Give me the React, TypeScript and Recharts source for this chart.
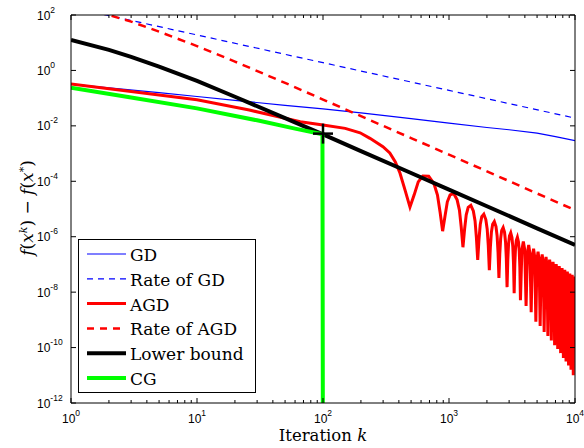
import React from 'react';
import { ComposedChart, Line, Scatter, XAxis, YAxis, Legend } from 'recharts';

// Values, stored as log10 of f(x^k) - f(x^*)
const gdK = [1, 2, 5, 10, 20, 50, 100, 200, 500, 1000, 2000, 3000, 5000, 7000, 10000];
const gdExp = [-0.49, -0.63, -0.8, -0.94, -1.08, -1.26, -1.39, -1.53, -1.74, -1.9, -2.06, -2.14, -2.26, -2.39, -2.53];

const rateGdK = [1, 10, 100, 1000, 10000];
const rateGdExp = [2.28, 1.28, 0.28, -0.72, -1.72];

const agdK = [
  1, 3, 10, 26, 66, 100, 150, 197, 236, 299, 339, 375, 408, 448, 490,
  530, 570, 620, 690, 760, 810, 850, 890,
  930, 970, 1020, 1090, 1160, 1210, 1250, 1290,
  1330, 1370, 1420, 1490, 1560, 1610, 1650, 1690,
  1730, 1770, 1820, 1890, 1960, 2010, 2050, 2090,
  2130, 2170, 2220, 2290, 2360, 2410, 2450, 2490,
  2530, 2570, 2620, 2690, 2760, 2810, 2850, 2890,
  2930, 2970, 3020, 3090, 3160, 3210, 3250, 3290,
  3330, 3370, 3420, 3490, 3560, 3610, 3650, 3690,
  3790, 3890, 3990, 4090, 4190, 4290, 4390, 4490,
  4590, 4690, 4790, 4890, 4990, 5090, 5190, 5290,
  5390, 5490, 5590, 5690, 5790, 5890, 5990, 6090,
  6190, 6290, 6390, 6490, 6590, 6690, 6790, 6890,
  6990, 7090, 7190, 7290, 7390, 7490, 7590, 7690,
  7790, 7890, 7990, 8090, 8190, 8290, 8390, 8490,
  8590, 8690, 8790, 8890, 8990, 9090, 9190, 9290,
  9390, 9490, 9590, 9690, 9790, 9890, 10000,
];
const agdExp = [
  -0.49, -0.76, -1.06, -1.43, -1.85, -1.97, -2.09, -2.25, -2.45, -2.75, -2.98, -3.3, -3.7, -4.32, -4.93,
  -4.48, -4.02, -3.81, -3.82, -4.09, -4.5, -5.12, -5.8,
  -5.25, -4.74, -4.49, -4.44, -4.67, -5.04, -5.65, -6.38,
  -5.73, -5.21, -4.94, -4.87, -5.07, -5.43, -6.03, -6.84,
  -6.09, -5.56, -5.28, -5.19, -5.38, -5.73, -6.32, -7.21,
  -6.37, -5.84, -5.55, -5.45, -5.63, -5.98, -6.56, -7.49,
  -6.61, -6.07, -5.77, -5.67, -5.84, -6.19, -6.77, -7.82,
  -6.81, -6.26, -5.97, -5.86, -6.03, -6.37, -6.95, -8.04,
  -6.98, -6.44, -6.14, -6.02, -6.19, -6.53, -7.1, -8.29,
  -6.47, -6.17, -6.47, -8.5, -6.6, -6.3, -6.6, -8.72,
  -6.73, -6.43, -6.73, -9.07, -6.84, -6.54, -6.84, -9.22,
  -6.94, -6.64, -6.94, -9.44, -7.03, -6.73, -7.03, -9.58,
  -7.13, -6.83, -7.13, -9.74, -7.21, -6.91, -7.21, -9.92,
  -7.29, -6.99, -7.29, -10.05, -7.36, -7.06, -7.36, -10.2,
  -7.43, -7.13, -7.43, -10.38, -7.5, -7.2, -7.5, -10.5,
  -7.56, -7.26, -7.56, -10.65, -7.63, -7.33, -7.63, -10.8,
  -7.68, -7.38, -7.68, -11.0, -7.74, -7.44, -7.6,
];

const rateAgdK = [1, 2, 3, 5, 10, 20, 50, 100, 200, 500, 1000, 2000, 5000, 10000];
const rateAgdExp = [2.36, 2.0, 1.76, 1.4, 0.88, 0.32, -0.45, -1.05, -1.65, -2.44, -3.04, -3.64, -4.44, -5.04];

const lowerK = [1, 2, 3, 5, 10, 20, 50, 100, 200, 500, 1000, 2000, 5000, 10000];
const lowerExp = [1.1, 0.74, 0.49, 0.14, -0.38, -0.95, -1.72, -2.31, -2.91, -3.7, -4.3, -4.9, -5.7, -6.3];

const cgK = [1, 3, 10, 30, 60, 99, 100];
const cgExp = [-0.62, -0.98, -1.37, -1.8, -2.1, -2.3, -16];

const markerK = [100];
const markerExp = [-2.28];

const xTicks = [
  1, 2, 3, 4, 5, 6, 7, 8, 9, 10, 20, 30, 40, 50, 60, 70, 80, 90, 100,
  200, 300, 400, 500, 600, 700, 800, 900, 1000, 2000, 3000, 4000, 5000,
  6000, 7000, 8000, 9000, 10000,
];
const yTicks = [1e-12, 1e-10, 1e-8, 1e-6, 1e-4, 1e-2, 1, 100];

const toData = (ks: number[], exps: number[]) => ks.map((k, i) => ({ k, v: Math.pow(10, exps[i]) }));

const gdData = toData(gdK, gdExp);
const rateGdData = toData(rateGdK, rateGdExp);
const agdData = toData(agdK, agdExp);
const rateAgdData = toData(rateAgdK, rateAgdExp);
const lowerData = toData(lowerK, lowerExp);
const cgData = toData(cgK, cgExp);
const markerData = toData(markerK, markerExp);

const legendItems = [
  { name: 'GD', color: '#0000ff', width: 1.2, dash: undefined as string | undefined },
  { name: 'Rate of GD', color: '#0000ff', width: 1.2, dash: '6 5' },
  { name: 'AGD', color: '#ff0000', width: 3, dash: undefined },
  { name: 'Rate of AGD', color: '#ff0000', width: 2.5, dash: '7 6' },
  { name: 'Lower bound', color: '#000000', width: 4, dash: undefined },
  { name: 'CG', color: '#00ff00', width: 4, dash: undefined },
];

const tickFont = "'Liberation Sans', Arial, sans-serif";
const serifFont = "'DejaVu Serif', 'Liberation Serif', serif";

const exponentOf = (v: number) => {
  const e = Math.log10(v);
  const r = Math.round(e);
  return { r, major: Math.abs(e - r) < 1e-6 };
};

const BottomTick = (props: any) => {
  const { x, y, payload } = props;
  const { r, major } = exponentOf(payload.value);
  return (
    <g>
      <line x1={x} x2={x} y1={y} y2={y - (major ? 5 : 3)} stroke="#000" />
      {major && (
        <text x={x} y={y + 20} textAnchor="middle" style={{ fontFamily: tickFont }} fontSize={12} fill="#000">
          10
          <tspan dy={-7} fontSize={8.5}>{r}</tspan>
        </text>
      )}
    </g>
  );
};

const TopTick = (props: any) => {
  const { x, y, payload } = props;
  const { major } = exponentOf(payload.value);
  return <line x1={x} x2={x} y1={y} y2={y + (major ? 5 : 3)} stroke="#000" />;
};

const LeftTick = (props: any) => {
  const { x, y, payload } = props;
  const { r } = exponentOf(payload.value);
  return (
    <g>
      <line x1={x} x2={x + 5} y1={y} y2={y} stroke="#000" />
      <text x={37} y={y + 4.5} textAnchor="start" style={{ fontFamily: tickFont }} fontSize={12} fill="#000">
        10
        <tspan dy={-7} fontSize={8.5}>{r}</tspan>
      </text>
    </g>
  );
};

const RightTick = (props: any) => {
  const { x, y } = props;
  return <line x1={x} x2={x - 5} y1={y} y2={y} stroke="#000" />;
};

const PlusMarker = (props: any) => {
  const { cx, cy } = props;
  return (
    <g>
      <line x1={cx - 10} x2={cx + 10} y1={cy} y2={cy} stroke="#000" strokeWidth={2.5} />
      <line x1={cx} x2={cx} y1={cy - 10} y2={cy + 10} stroke="#000" strokeWidth={2.5} />
    </g>
  );
};

const renderLegend = () => (
  <svg width={178} height={154} style={{ display: 'block' }}>
    <rect x={0.5} y={0.5} width={177} height={153} fill="#fff" stroke="#000" strokeWidth={1} />
    {legendItems.map((item, i) => {
      const cy = 15 + i * 24.8;
      return (
        <g key={item.name}>
          <line
            x1={9}
            x2={48}
            y1={cy}
            y2={cy}
            stroke={item.color}
            strokeWidth={item.width}
            strokeDasharray={item.dash}
          />
          <text x={52} y={cy + 7} style={{ fontFamily: serifFont }} fontSize={17} fill="#000">
            {item.name}
          </text>
        </g>
      );
    })}
  </svg>
);

export default function App() {
  return (
    <div style={{ position: 'absolute', left: 0, top: 0, width: 584, height: 448, background: '#fff' }}>
      <ComposedChart width={584} height={448} margin={{ top: 14, right: 8, bottom: 44, left: 70 }}>
        <XAxis
          dataKey="k"
          type="number"
          scale="log"
          domain={[1, 10000]}
          allowDataOverflow
          ticks={xTicks}
          interval={0}
          height={1}
          tickSize={0}
          tickMargin={0}
          tickLine={false}
          axisLine={{ stroke: '#000' }}
          tick={<BottomTick />}
        />
        <XAxis
          xAxisId="top"
          orientation="top"
          dataKey="k"
          type="number"
          scale="log"
          domain={[1, 10000]}
          allowDataOverflow
          ticks={xTicks}
          interval={0}
          height={1}
          tickSize={0}
          tickMargin={0}
          tickLine={false}
          axisLine={{ stroke: '#000' }}
          tick={<TopTick />}
        />
        <YAxis
          dataKey="v"
          type="number"
          scale="log"
          domain={[1e-12, 100]}
          allowDataOverflow
          ticks={yTicks}
          interval={0}
          width={1}
          tickSize={0}
          tickMargin={0}
          tickLine={false}
          axisLine={{ stroke: '#000' }}
          tick={<LeftTick />}
        />
        <YAxis
          yAxisId="right"
          orientation="right"
          dataKey="v"
          type="number"
          scale="log"
          domain={[1e-12, 100]}
          allowDataOverflow
          ticks={yTicks}
          interval={0}
          width={1}
          tickSize={0}
          tickMargin={0}
          tickLine={false}
          axisLine={{ stroke: '#000' }}
          tick={<RightTick />}
        />
        <Line data={gdData} dataKey="v" name="GD" stroke="#0000ff" strokeWidth={1.2} dot={false} isAnimationActive={false} />
        <Line data={rateGdData} dataKey="v" name="Rate of GD" stroke="#0000ff" strokeWidth={1.2} strokeDasharray="6 5" dot={false} isAnimationActive={false} />
        <Line data={agdData} dataKey="v" name="AGD" stroke="#ff0000" strokeWidth={3} dot={false} isAnimationActive={false} />
        <Line data={rateAgdData} dataKey="v" name="Rate of AGD" stroke="#ff0000" strokeWidth={2.5} strokeDasharray="8 6" dot={false} isAnimationActive={false} />
        <Line data={lowerData} dataKey="v" name="Lower bound" stroke="#000000" strokeWidth={4} dot={false} isAnimationActive={false} />
        <Line data={cgData} dataKey="v" name="CG" stroke="#00ff00" strokeWidth={4} dot={false} isAnimationActive={false} />
        <Scatter data={markerData} dataKey="v" shape={<PlusMarker />} isAnimationActive={false} legendType="none" />
        <Legend
          layout="horizontal"
          verticalAlign="middle"
          align="center"
          content={renderLegend}
          wrapperStyle={{ left: 78, top: 239, width: 178, height: 154 }}
        />
      </ComposedChart>
      <div
        style={{
          position: 'absolute',
          left: 323,
          top: 436,
          transform: 'translate(-50%, -50%)',
          fontFamily: serifFont,
          fontSize: 16.5,
          whiteSpace: 'nowrap',
          lineHeight: 1,
        }}
      >
        Iteration <i>k</i>
      </div>
      <div
        style={{
          position: 'absolute',
          left: 27,
          top: 208,
          transform: 'translate(-50%, -50%) rotate(-90deg)',
          fontFamily: serifFont,
          fontSize: 17,
          whiteSpace: 'nowrap',
          lineHeight: 1,
        }}
      >
        <i>f</i>(<i>x</i>
        <sup style={{ fontSize: 11 }}>
          <i>k</i>
        </sup>
        ) − <i>f</i>(<i>x</i>
        <sup style={{ fontSize: 11 }}>*</sup>)
      </div>
    </div>
  );
}
